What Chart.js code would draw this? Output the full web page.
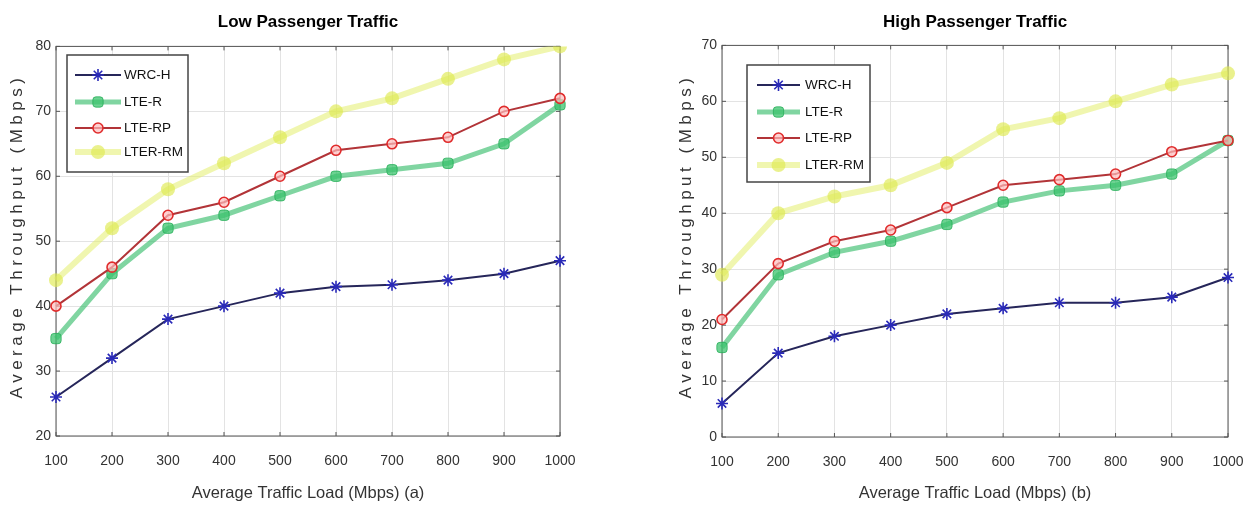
<!DOCTYPE html>
<html>
<head>
<meta charset="utf-8">
<script src="https://cdn.jsdelivr.net/npm/chart.js@4.4.0/dist/chart.umd.min.js"></script>
<style>
  html, body { margin: 0; padding: 0; background: #fff; overflow: hidden; width: 1251px; height: 510px; }
  #left { position: absolute; left: 0; top: 0; }
  #right { position: absolute; left: 640px; top: 0; }
</style>
</head>
<body>
<canvas id="left" width="616" height="510"></canvas>
<canvas id="right" width="670" height="510"></canvas>
<script>
// traffic load (Mbps)
const loads = [100, 200, 300, 400, 500, 600, 700, 800, 900, 1000];
const seriesNames = ["WRC-H", "LTE-R", "LTE-RP", "LTER-RM"];

// (a) low passenger traffic
const lowWRC = [26, 32, 38, 40, 42, 43, 43.3, 44, 45, 47];
const lowLTER = [35, 45, 52, 54, 57, 60, 61, 62, 65, 71];
const lowLTERP = [40, 46, 54, 56, 60, 64, 65, 66, 70, 72];
const lowLTERM = [44, 52, 58, 62, 66, 70, 72, 75, 78, 80];
const lowTicks = [20, 30, 40, 50, 60, 70, 80];

// (b) high passenger traffic
const highWRC = [6, 15, 18, 20, 22, 23, 24, 24, 25, 28.5];
const highLTER = [16, 29, 33, 35, 38, 42, 44, 45, 47, 53];
const highLTERP = [21, 31, 35, 37, 41, 45, 46, 47, 51, 53];
const highLTERM = [29, 40, 43, 45, 49, 55, 57, 60, 63, 65];
const highTicks = [0, 10, 20, 30, 40, 50, 60, 70];

const sans = "'Liberation Sans', Arial, Helvetica, sans-serif";

function makeDatasets(wrc, lter, lterp, lterm) {
  return [
    { label: seriesNames[0], data: wrc, order: 0,
      borderColor: "#26265a", borderWidth: 2,
      pointStyle: "star", pointRadius: 6, pointBorderWidth: 1.6,
      pointBorderColor: "#2a2ab8", pointBackgroundColor: "#2a2ab8" },
    { label: seriesNames[1], data: lter, order: 2,
      borderColor: "rgba(60,190,110,0.65)", borderWidth: 5,
      pointStyle: "rectRounded", pointRadius: 6, pointBorderWidth: 1,
      pointBorderColor: "rgba(40,175,90,0.8)", pointBackgroundColor: "rgba(60,195,110,0.75)" },
    { label: seriesNames[2], data: lterp, order: 1,
      borderColor: "#b23438", borderWidth: 2,
      pointStyle: "circle", pointRadius: 5, pointBorderWidth: 1.6,
      pointBorderColor: "#e02c2c", pointBackgroundColor: "rgba(255,190,190,0.7)" },
    { label: seriesNames[3], data: lterm, order: 3,
      borderColor: "rgba(228,238,110,0.55)", borderWidth: 6,
      pointStyle: "circle", pointRadius: 7, pointBorderWidth: 0,
      pointBorderColor: "rgba(222,234,80,0.65)", pointBackgroundColor: "rgba(222,234,80,0.65)" }
  ];
}

// plot frame with small inward ticks
const framePlugin = {
  id: "frame",
  beforeDatasetsDraw(chart) {
    const { ctx, chartArea: a, scales } = chart;
    ctx.save();
    ctx.strokeStyle = "#555";
    ctx.lineWidth = 1;
    ctx.strokeRect(a.left, a.top, a.right - a.left, a.bottom - a.top);
    ctx.beginPath();
    scales.x.ticks.forEach((t, i) => {
      const px = scales.x.getPixelForTick(i);
      ctx.moveTo(px, a.bottom); ctx.lineTo(px, a.bottom - 4);
      ctx.moveTo(px, a.top); ctx.lineTo(px, a.top + 4);
    });
    scales.y.ticks.forEach((t, i) => {
      const py = scales.y.getPixelForTick(i);
      ctx.moveTo(a.left, py); ctx.lineTo(a.left + 4, py);
      ctx.moveTo(a.right, py); ctx.lineTo(a.right - 4, py);
    });
    ctx.stroke();
    ctx.restore();
  }
};

// boxed legend inside the plot, like the original figure
const boxLegendPlugin = {
  id: "boxLegend",
  afterDraw(chart, args, opts) {
    const { ctx } = chart;
    ctx.save();
    ctx.fillStyle = "#fff";
    ctx.fillRect(opts.x, opts.y, opts.w, opts.h);
    ctx.strokeStyle = "#444";
    ctx.lineWidth = 1.5;
    ctx.strokeRect(opts.x, opts.y, opts.w, opts.h);
    chart.data.datasets.forEach((ds, i) => {
      const y = opts.rows[i];
      ctx.strokeStyle = ds.borderColor;
      ctx.lineWidth = ds.borderWidth;
      ctx.beginPath();
      ctx.moveTo(opts.lineX0, y);
      ctx.lineTo(opts.lineX1, y);
      ctx.stroke();
      ctx.fillStyle = ds.pointBackgroundColor;
      ctx.strokeStyle = ds.pointBorderColor;
      ctx.lineWidth = ds.pointBorderWidth;
      Chart.helpers.drawPoint(ctx, {
        pointStyle: ds.pointStyle, radius: ds.pointRadius,
        borderWidth: ds.pointBorderWidth, rotation: 0
      }, (opts.lineX0 + opts.lineX1) / 2, y);
      ctx.fillStyle = "#111";
      ctx.font = "13.5px " + sans;
      ctx.textBaseline = "middle";
      ctx.textAlign = "left";
      ctx.fillText(ds.label, opts.textX, y);
    });
    ctx.restore();
  }
};

// rotated y title, spaced out like the stretched original
const yTitlePlugin = {
  id: "yTitle",
  afterDraw(chart, args, opts) {
    const { ctx } = chart;
    ctx.save();
    ctx.translate(opts.x, opts.y);
    ctx.rotate(-Math.PI / 2);
    ctx.font = "17px " + sans;
    ctx.letterSpacing = "4.5px";
    ctx.fillStyle = "#333";
    ctx.textAlign = "center";
    ctx.textBaseline = "middle";
    ctx.fillText(opts.text, 0, 0);
    ctx.restore();
  }
};

function makeChart(id, cfg) {
  return new Chart(document.getElementById(id), {
    type: "line",
    data: { labels: loads, datasets: cfg.datasets },
    plugins: [framePlugin, boxLegendPlugin, yTitlePlugin],
    options: {
      responsive: false,
      animation: false,
      layout: { padding: 0 },
      elements: { line: { tension: 0 } },
      plugins: {
        legend: { display: false },
        tooltip: { enabled: false },
        title: {
          display: true, text: cfg.title, color: "#000",
          font: { family: sans, size: 17, weight: "bold" },
          padding: { top: 12, bottom: cfg.titleBottom }
        },
        boxLegend: cfg.legend,
        yTitle: { text: "Average Throughput (Mbps)", x: cfg.yTitleX, y: 236 }
      },
      scales: {
        x: {
          type: "category",
          offset: false,
          grid: { color: "#e3e3e3", drawTicks: false },
          border: { display: false },
          ticks: { color: "#333", font: { family: sans, size: 14 }, padding: 17, maxRotation: 0, autoSkip: false },
          title: { display: true, text: cfg.xTitle, color: "#333",
                   font: { family: sans, size: 16.5 }, padding: { top: 0, bottom: 7 } },
          afterFit: s => { s.height = cfg.xHeight; }
        },
        y: {
          min: cfg.ticks[0], max: cfg.ticks[cfg.ticks.length - 1],
          afterBuildTicks: s => { s.ticks = cfg.ticks.map(v => ({ value: v })); },
          grid: { color: "#e3e3e3", drawTicks: false },
          border: { display: false },
          ticks: { color: "#333", font: { family: sans, size: 14 }, padding: 5 },
          afterFit: s => { s.width = cfg.yWidth; }
        },
        // empty right-hand strip so the title stays centred over the plot
        yRight: {
          position: "right",
          min: cfg.ticks[0], max: cfg.ticks[cfg.ticks.length - 1],
          grid: { display: false },
          border: { display: false },
          ticks: { display: false },
          afterFit: s => { s.width = cfg.padRight; }
        }
      }
    }
  });
}

makeChart("left", {
  title: "Low Passenger Traffic",
  xTitle: "Average Traffic Load (Mbps) (a)",
  datasets: makeDatasets(lowWRC, lowLTER, lowLTERP, lowLTERM),
  ticks: lowTicks,
  padRight: 56, yWidth: 56, xHeight: 74, titleBottom: 14, yTitleX: 17,
  legend: { x: 67, y: 55, w: 121, h: 117, rows: [75, 102, 128, 152], lineX0: 75, lineX1: 121, textX: 124 }
});

makeChart("right", {
  title: "High Passenger Traffic",
  xTitle: "Average Traffic Load (Mbps) (b)",
  datasets: makeDatasets(highWRC, highLTER, highLTERP, highLTERM),
  ticks: highTicks,
  padRight: 82, yWidth: 82, xHeight: 73, titleBottom: 13, yTitleX: 46,
  legend: { x: 107, y: 65, w: 123, h: 117, rows: [85, 112, 138, 165], lineX0: 117, lineX1: 160, textX: 165 }
});
</script>
</body>
</html>
